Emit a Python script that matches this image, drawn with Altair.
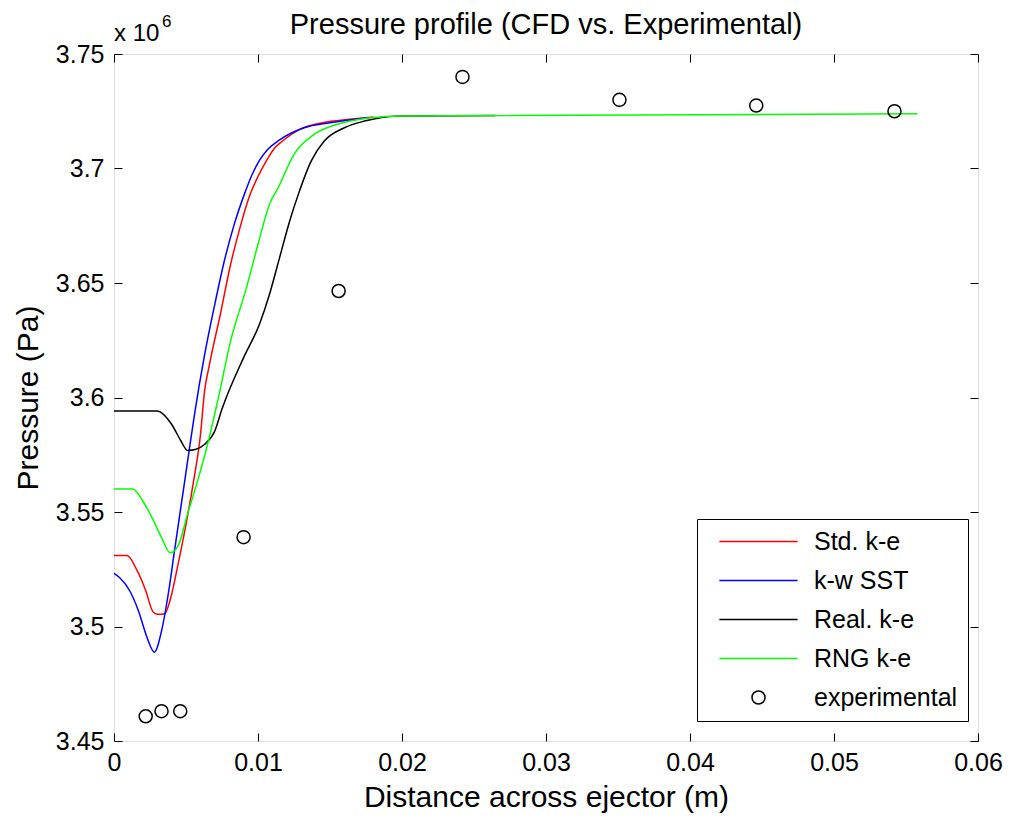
import altair as alt
import pandas as pd

# ---- data (pressure in units of 1e6 Pa) ----
STD_X = [0.0, 0.0009, 0.0016, 0.0022, 0.0027, 0.0030, 0.0035, 0.0040, 0.0044, 0.0050,
         0.0055, 0.0060, 0.0063, 0.0066, 0.0074, 0.0081, 0.00875, 0.0094, 0.0100, 0.0106,
         0.0111, 0.0117, 0.0129, 0.0145, 0.0164, 0.0180]
STD_Y = [3.531, 3.531, 3.5245, 3.5157, 3.5065, 3.5053, 3.5055, 3.514, 3.5257, 3.5446,
         3.5625, 3.5835, 3.6033, 3.6135, 3.6368, 3.6582, 3.6742, 3.6878, 3.6965, 3.7035,
         3.7085, 3.712, 3.7171, 3.720, 3.7215, 3.7225]

SST_X = [0.0, 0.0004, 0.0011, 0.0017, 0.0023, 0.0028, 0.0033, 0.0038, 0.0042, 0.0047,
         0.0052, 0.0056, 0.0063, 0.0070, 0.00766, 0.00835, 0.00905, 0.0096, 0.0101, 0.0107,
         0.0115, 0.0132, 0.0150, 0.0176]
SST_Y = [3.5232, 3.5213, 3.5155, 3.5068, 3.4951, 3.4888, 3.498, 3.5155, 3.533, 3.5545,
         3.576, 3.593, 3.6189, 3.6407, 3.6596, 3.6756, 3.6887, 3.6975, 3.7035, 3.7085,
         3.7125, 3.7178, 3.720, 3.7222]

REAL_X = [0.0, 0.0030, 0.0040, 0.00465, 0.0051, 0.0057, 0.0063, 0.0070, 0.0075, 0.0090,
          0.0101, 0.0108, 0.0115, 0.0122, 0.0128, 0.0137, 0.0146, 0.0160, 0.0174, 0.0199,
          0.0265]
REAL_Y = [3.5941, 3.5941, 3.5883, 3.581, 3.5769, 3.5774, 3.5796, 3.5854, 3.595, 3.6174,
          3.632, 3.6451, 3.6611, 3.6771, 3.6887, 3.7033, 3.712, 3.7178, 3.7207, 3.7229,
          3.7231]

RNG_X = [0.0, 0.0013, 0.0020, 0.0027, 0.0033, 0.0039, 0.0045, 0.0051, 0.0058, 0.0065,
         0.0072, 0.0081, 0.0092, 0.0100, 0.0108, 0.0114, 0.0125, 0.0139, 0.0155, 0.0179,
         0.0199, 0.0558]
RNG_Y = [3.560, 3.560, 3.5548, 3.5468, 3.5388, 3.5322, 3.5359, 3.549, 3.5635, 3.5796,
         3.5985, 3.6247, 3.648, 3.6669, 3.6844, 3.6916, 3.7062, 3.7149, 3.7193, 3.7222,
         3.7229, 3.7239]

EXP_X = [0.0022, 0.0033, 0.0046, 0.0090, 0.0156, 0.0242, 0.0351, 0.0446, 0.0542]
EXP_Y = [3.4608, 3.463, 3.463, 3.539, 3.6465, 3.740, 3.730, 3.7275, 3.725]

SERIES = ["Std. k-e", "k-w SST", "Real. k-e", "RNG k-e", "experimental"]
COLORS = ["#ff0000", "#0000ff", "#000000", "#00ff00", "#000000"]
X_TICKS = [0, 0.01, 0.02, 0.03, 0.04, 0.05, 0.06]
Y_TICKS = [3.45, 3.5, 3.55, 3.6, 3.65, 3.7, 3.75]

rows = []
for name, xs, ys in [("Std. k-e", STD_X, STD_Y), ("k-w SST", SST_X, SST_Y),
                     ("Real. k-e", REAL_X, REAL_Y), ("RNG k-e", RNG_X, RNG_Y),
                     ("experimental", EXP_X, EXP_Y)]:
    for i, (x, y) in enumerate(zip(xs, ys)):
        rows.append({"series": name, "x": x, "y": y, "i": i})
df = pd.DataFrame(rows)

FONT = "Liberation Sans"
LINE_PATH = "M-6,0H6"
xscale = alt.Scale(domain=[0, 0.06], nice=False, zero=False)
yscale = alt.Scale(domain=[3.45, 3.75], nice=False, zero=False)
color_scale = alt.Scale(domain=SERIES, range=COLORS)
shape_scale = alt.Scale(domain=SERIES, range=[LINE_PATH] * 4 + ["circle"])

common_axis = dict(domain=False, grid=False, tickColor="black", tickWidth=1,
                   labelColor="black", titleColor="black", labelFont=FONT,
                   titleFont=FONT, titleFontWeight="normal", labelFontSize=25,
                   titleFontSize=30, labelOverlap=False, labelFlush=False)

x_bottom = alt.Axis(orient="bottom", values=X_TICKS, format="~g", offset=-8, tickSize=8,
                    labelPadding=9, title="Distance across ejector (m)", titlePadding=7,
                    **common_axis)
y_left = alt.Axis(orient="left", values=Y_TICKS, format="~g", offset=-8, tickSize=8,
                  labelPadding=10, title="Pressure (Pa)", titlePadding=12, **common_axis)
x_top = alt.Axis(orient="top", values=X_TICKS, labels=False, offset=-8, tickSize=8,
                 title=None, **common_axis)
y_right = alt.Axis(orient="right", values=Y_TICKS, labels=False, offset=-8, tickSize=8,
                   title=None, **common_axis)

legend = alt.Legend(title=None, orient="none", legendX=583, legendY=465, direction="vertical",
                    padding=10, strokeColor="black", fillColor="white", labelFont=FONT,
                    labelFontSize=25, labelColor="black", symbolSize=170,
                    symbolStrokeWidth=1.5, symbolOffset=39, labelOffset=43, rowPadding=13,
                    symbolFillColor="transparent", symbolOpacity=1)

layers = []
for k, (name, col) in enumerate(zip(SERIES[:4], COLORS[:4])):
    layers.append(
        alt.Chart(df).transform_filter(alt.datum.series == name)
        .mark_line(strokeWidth=1.5, interpolate="monotone", color=col)
        .encode(
            x=alt.X("x:Q", scale=xscale, axis=x_bottom if k == 0 else None),
            y=alt.Y("y:Q", scale=yscale, axis=y_left if k == 0 else None),
            order="i:Q",
        )
    )

points = (
    alt.Chart(df).transform_filter(alt.datum.series == "experimental")
    .mark_point(filled=False, size=170, strokeWidth=1.5, opacity=1)
    .encode(
        x=alt.X("x:Q", scale=xscale, axis=x_top),
        y=alt.Y("y:Q", scale=yscale, axis=y_right),
        color=alt.Color("series:N", scale=color_scale, legend=legend),
        shape=alt.Shape("series:N", scale=shape_scale, legend=legend),
    )
)

anno = pd.DataFrame({"x": [0.0], "y": [3.75], "base": ["x 10"], "exp": ["6"]})
base_txt = alt.Chart(anno).mark_text(align="left", baseline="alphabetic", dy=-13,
                                     fontSize=24, font=FONT, color="black").encode(
    x=alt.X("x:Q", scale=xscale, axis=None), y=alt.Y("y:Q", scale=yscale, axis=None),
    text="base:N")
exp_txt = alt.Chart(anno).mark_text(align="left", baseline="alphabetic", dx=48, dy=-27,
                                    fontSize=17, font=FONT, color="black").encode(
    x=alt.X("x:Q", scale=xscale, axis=None), y=alt.Y("y:Q", scale=yscale, axis=None),
    text="exp:N")

chart = (
    alt.layer(*layers, points, base_txt, exp_txt)
    .resolve_axis(x="independent", y="independent")
    .properties(
        width=864, height=687,
        title=alt.TitleParams("Pressure profile (CFD vs. Experimental)", fontSize=29,
                              font=FONT, fontWeight="normal", anchor="middle",
                              frame="group", offset=-27, color="black"),
        autosize=alt.AutoSizeParams(type="none"),
        padding={"left": 106, "top": 46, "right": 27, "bottom": 72},
    )
    .configure_view(stroke="black", strokeWidth=1)
    .configure(background="white")
)

chart.save("out.html", embed_options={"renderer": "svg", "actions": False})
